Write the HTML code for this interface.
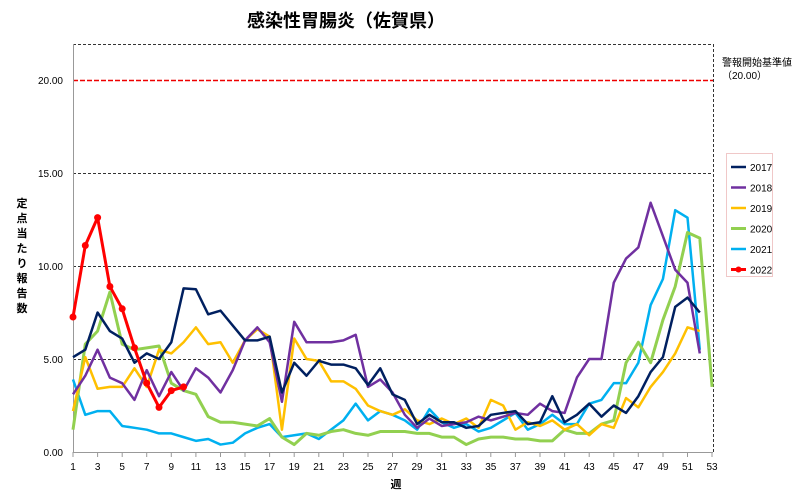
<!DOCTYPE html>
<html><head><meta charset="utf-8"><style>
body{margin:0;background:#fff;width:800px;height:496px;overflow:hidden}
svg{display:block;font-family:"Liberation Sans","Noto Sans CJK JP",sans-serif}
</style></head><body>
<svg width="800" height="496" viewBox="0 0 800 496">
<text x="346" y="27" text-anchor="middle" font-size="18" font-weight="bold" fill="#000">感染性胃腸炎（佐賀県）</text>
<g stroke="#333" stroke-width="1" stroke-dasharray="3,2" fill="none">
<line x1="73" y1="44.5" x2="713" y2="44.5"/>
<line x1="73" y1="173.5" x2="713" y2="173.5"/>
<line x1="73" y1="266.5" x2="713" y2="266.5"/>
<line x1="73" y1="359.5" x2="713" y2="359.5"/>
<line x1="713.5" y1="44" x2="713.5" y2="452"/>
</g>
<line x1="73" y1="80.5" x2="713" y2="80.5" stroke="#e00" stroke-width="1.5" stroke-dasharray="5,2"/>
<line x1="73.5" y1="44" x2="73.5" y2="452" stroke="#999"/>
<line x1="73" y1="452.5" x2="713" y2="452.5" stroke="#999"/>
<g stroke="#999">
<line x1="73" y1="452" x2="73" y2="457"/><line x1="97.6" y1="452" x2="97.6" y2="457"/><line x1="122.2" y1="452" x2="122.2" y2="457"/><line x1="146.7" y1="452" x2="146.7" y2="457"/><line x1="171.3" y1="452" x2="171.3" y2="457"/><line x1="195.9" y1="452" x2="195.9" y2="457"/><line x1="220.5" y1="452" x2="220.5" y2="457"/><line x1="245" y1="452" x2="245" y2="457"/><line x1="269.6" y1="452" x2="269.6" y2="457"/><line x1="294.2" y1="452" x2="294.2" y2="457"/><line x1="318.8" y1="452" x2="318.8" y2="457"/><line x1="343.4" y1="452" x2="343.4" y2="457"/><line x1="368" y1="452" x2="368" y2="457"/><line x1="392.5" y1="452" x2="392.5" y2="457"/><line x1="417" y1="452" x2="417" y2="457"/><line x1="441.7" y1="452" x2="441.7" y2="457"/><line x1="466.3" y1="452" x2="466.3" y2="457"/><line x1="490.8" y1="452" x2="490.8" y2="457"/><line x1="515.4" y1="452" x2="515.4" y2="457"/><line x1="540" y1="452" x2="540" y2="457"/><line x1="564.6" y1="452" x2="564.6" y2="457"/><line x1="589.2" y1="452" x2="589.2" y2="457"/><line x1="613.8" y1="452" x2="613.8" y2="457"/><line x1="638.3" y1="452" x2="638.3" y2="457"/><line x1="663" y1="452" x2="663" y2="457"/><line x1="687.5" y1="452" x2="687.5" y2="457"/><line x1="712" y1="452" x2="712" y2="457"/>
</g>
<g font-size="10" fill="#000" text-anchor="end">
<text x="63" y="456">0.00</text><text x="63" y="363">5.00</text><text x="63" y="270">10.00</text><text x="63" y="177">15.00</text><text x="63" y="84">20.00</text>
</g>
<g font-size="10" fill="#000" text-anchor="middle">
<text x="73" y="470">1</text><text x="97.6" y="470">3</text><text x="122.2" y="470">5</text><text x="146.7" y="470">7</text><text x="171.3" y="470">9</text><text x="195.9" y="470">11</text><text x="220.5" y="470">13</text><text x="245" y="470">15</text><text x="269.6" y="470">17</text><text x="294.2" y="470">19</text><text x="318.8" y="470">21</text><text x="343.4" y="470">23</text><text x="368" y="470">25</text><text x="392.5" y="470">27</text><text x="417" y="470">29</text><text x="441.7" y="470">31</text><text x="466.3" y="470">33</text><text x="490.8" y="470">35</text><text x="515.4" y="470">37</text><text x="540" y="470">39</text><text x="564.6" y="470">41</text><text x="589.2" y="470">43</text><text x="613.8" y="470">45</text><text x="638.3" y="470">47</text><text x="663" y="470">49</text><text x="687.5" y="470">51</text><text x="712" y="470">53</text>
</g>
<text x="396" y="488" font-size="11" font-weight="bold" text-anchor="middle">週</text>
<g font-size="11" font-weight="bold" text-anchor="middle">
<text x="22" y="207">定</text><text x="22" y="222">点</text><text x="22" y="237">当</text><text x="22" y="252">た</text><text x="22" y="267">り</text><text x="22" y="282">報</text><text x="22" y="297">告</text><text x="22" y="312">数</text>
</g>
<text x="722" y="66" font-size="10">警報開始基準値</text>
<text x="722" y="79" font-size="10">（20.00）</text>
<g transform="translate(73,452) scale(12.29,-18.6)" fill="none" stroke-linejoin="round">
<polyline vector-effect="non-scaling-stroke" stroke="#00b0f0" stroke-width="2.5" points="0,3.9 1,2.0 2,2.2 3,2.2 4,1.4 5,1.3 6,1.2 7,1.0 8,1.0 9,0.8 10,0.6 11,0.7 12,0.4 13,0.5 14,1.0 15,1.3 16,1.5 17,0.8 18,0.9 19,1.0 20,0.7 21,1.2 22,1.7 23,2.6 24,1.7 25,2.2 26,2.0 27,1.7 28,1.2 29,2.3 30,1.6 31,1.3 32,1.5 33,1.1 34,1.3 35,1.7 36,2.1 37,1.2 38,1.5 39,2.0 40,1.5 41,1.5 42,2.6 43,2.8 44,3.7 45,3.7 46,4.8 47,7.9 48,9.3 49,13.0 50,12.6 51,5.5"/>
<polyline vector-effect="non-scaling-stroke" stroke="#92d050" stroke-width="3" points="0,1.2 1,5.8 2,6.5 3,8.6 4,5.8 5,5.5 6,5.6 7,5.7 8,3.7 9,3.3 10,3.1 11,1.9 12,1.6 13,1.6 14,1.5 15,1.4 16,1.8 17,0.8 18,0.4 19,1.0 20,0.9 21,1.1 22,1.2 23,1.0 24,0.9 25,1.1 26,1.1 27,1.1 28,1.0 29,1.0 30,0.8 31,0.8 32,0.4 33,0.7 34,0.8 35,0.8 36,0.7 37,0.7 38,0.6 39,0.6 40,1.2 41,1.0 42,1.0 43,1.5 44,1.7 45,4.8 46,5.9 47,4.8 48,7.1 49,8.9 50,11.8 51,11.5 52,3.5"/>
<polyline vector-effect="non-scaling-stroke" stroke="#ffc000" stroke-width="2.5" points="0,2.2 1,5.1 2,3.4 3,3.5 4,3.5 5,4.5 6,3.5 7,5.5 8,5.3 9,5.9 10,6.7 11,5.8 12,5.9 13,4.8 14,6.0 15,6.6 16,6.2 17,1.2 18,6.1 19,5.0 20,4.9 21,3.8 22,3.8 23,3.4 24,2.5 25,2.2 26,2.0 27,2.3 28,1.7 29,1.5 30,1.8 31,1.5 32,1.8 33,1.3 34,2.8 35,2.5 36,1.2 37,1.6 38,1.4 39,1.7 40,1.2 41,1.5 42,0.9 43,1.5 44,1.3 45,2.9 46,2.4 47,3.5 48,4.3 49,5.3 50,6.7 51,6.5"/>
<polyline vector-effect="non-scaling-stroke" stroke="#7030a0" stroke-width="2.5" points="0,3.1 1,4.1 2,5.5 3,4.0 4,3.7 5,2.8 6,4.4 7,3.0 8,4.3 9,3.3 10,4.5 11,4.0 12,3.2 13,4.4 14,6.0 15,6.7 16,5.9 17,2.7 18,7.0 19,5.9 20,5.9 21,5.9 22,6.0 23,6.3 24,3.5 25,3.9 26,3.2 27,2.0 28,1.3 29,1.8 30,1.4 31,1.5 32,1.6 33,1.9 34,1.7 35,1.9 36,2.1 37,2.0 38,2.6 39,2.2 40,2.1 41,4.0 42,5.0 43,5.0 44,9.1 45,10.4 46,11.0 47,13.4 48,11.6 49,9.8 50,9.1 51,5.3"/>
<polyline vector-effect="non-scaling-stroke" stroke="#002060" stroke-width="2.5" points="0,5.1 1,5.5 2,7.5 3,6.5 4,6.1 5,4.8 6,5.3 7,5.0 8,5.9 9,8.8 10,8.75 11,7.4 12,7.6 13,6.8 14,6.0 15,6.0 16,6.2 17,3.2 18,4.8 19,4.1 20,4.9 21,4.7 22,4.7 23,4.5 24,3.6 25,4.5 26,3.1 27,2.8 28,1.5 29,2.0 30,1.6 31,1.6 32,1.3 33,1.4 34,2.0 35,2.1 36,2.2 37,1.5 38,1.6 39,3.0 40,1.6 41,2.0 42,2.6 43,1.9 44,2.5 45,2.1 46,3.0 47,4.3 48,5.1 49,7.8 50,8.3 51,7.5"/>
<polyline vector-effect="non-scaling-stroke" stroke="#ff0000" stroke-width="3" points="0,7.25 1,11.1 2,12.6 3,8.9 4,7.7 5,5.6 6,3.7 7,2.4 8,3.3 9,3.5"/>
</g>
<g fill="#ff0000">
<circle cx="73" cy="317" r="3.5"/><circle cx="85.3" cy="245.5" r="3.5"/><circle cx="97.6" cy="217.6" r="3.5"/><circle cx="109.9" cy="286.5" r="3.5"/><circle cx="122.2" cy="308.8" r="3.5"/><circle cx="134.5" cy="347.8" r="3.5"/><circle cx="146.7" cy="383.2" r="3.5"/><circle cx="159" cy="407.4" r="3.5"/><circle cx="171.3" cy="390.6" r="3.5"/><circle cx="183.6" cy="386.9" r="3.5"/>
</g>
<rect x="726.5" y="153.5" width="46" height="123" fill="#fff" stroke="#f0c8c8"/>
<g stroke-width="2.5">
<line x1="731" y1="167" x2="746" y2="167" stroke="#002060"/>
<line x1="731" y1="187.5" x2="746" y2="187.5" stroke="#7030a0"/>
<line x1="731" y1="208" x2="746" y2="208" stroke="#ffc000"/>
<line x1="731" y1="228.5" x2="746" y2="228.5" stroke="#92d050" stroke-width="3"/>
<line x1="731" y1="249" x2="746" y2="249" stroke="#00b0f0"/>
<line x1="731" y1="269.5" x2="746" y2="269.5" stroke="#ff0000" stroke-width="3"/>
</g>
<circle cx="738.5" cy="269.5" r="3" fill="#ff0000"/>
<g font-size="10" fill="#000">
<text x="750" y="171">2017</text><text x="750" y="191.5">2018</text><text x="750" y="212">2019</text><text x="750" y="232.5">2020</text><text x="750" y="253">2021</text><text x="750" y="273.5">2022</text>
</g>
</svg>
</body></html>
